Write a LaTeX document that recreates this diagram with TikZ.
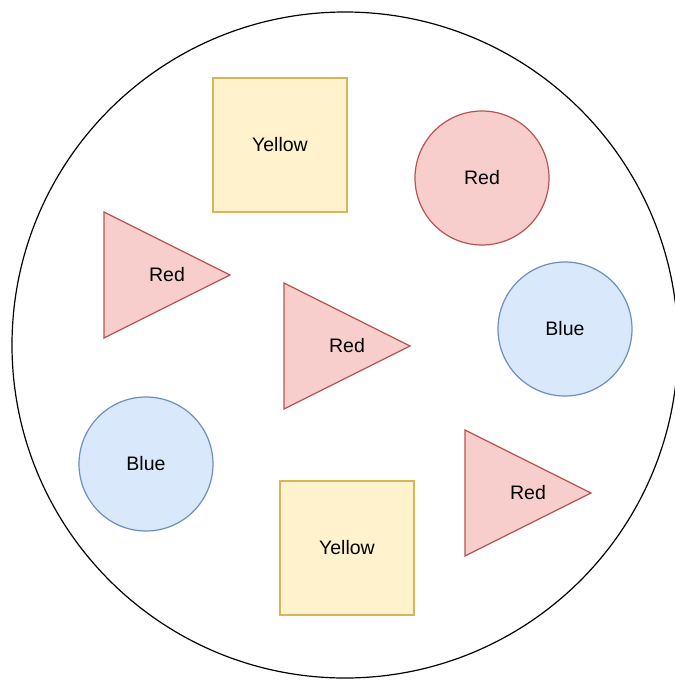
\documentclass[tikz,border=0pt]{standalone}
\usepackage{fontspec}
\setmainfont{Liberation Sans}
\usetikzlibrary{positioning}
\definecolor{yelfill}{HTML}{FFF2CC}
\definecolor{yelline}{HTML}{D6B656}
\definecolor{redfill}{HTML}{F8CECC}
\definecolor{redline}{HTML}{B85450}
\definecolor{bluefill}{HTML}{DAE8FC}
\definecolor{blueline}{HTML}{6C8EBF}
\begin{document}
\begin{tikzpicture}[x=1pt, y=-1pt, line width=1.2pt, font=\fontsize{19.5}{22}\selectfont,
  bag node/.style={circle,draw=black,minimum size=666pt,inner sep=0pt},
  yellow node/.style={rectangle,draw=yelline,fill=yelfill,minimum size=134pt,inner sep=0pt},
  red node/.style={circle,draw=redline,fill=redfill,minimum size=134pt,inner sep=0pt},
  blue node/.style={circle,draw=blueline,fill=bluefill,minimum size=134pt,inner sep=0pt},
  red tri/.style={draw=redline,fill=redfill,line join=miter}]
\useasboundingbox (0,0) rectangle (675,681);
\node[bag node] (bag) at (345,345) {};
% squares and circles
\node[yellow node] (y1) at (280,145) {Yellow};
\node[yellow node] (y2) at (347,548) {Yellow};
\node[red node] (r1) at (482,178) {Red};
\node[blue node] (b1) at (565,329) {Blue};
\node[blue node] (b2) at (146,464) {Blue};
% triangles
\coordinate (t1) at (167,275);
\coordinate (t2) at (347,346);
\coordinate (t3) at (528,493);
\foreach \t in {t1,t2,t3}{
  \draw[red tri] (\t) ++(-63,-63) -- ++(0,126) -- ++(126,-63) -- cycle;
  \node (\t label) at (\t) {Red};
}
\end{tikzpicture}
\end{document}
